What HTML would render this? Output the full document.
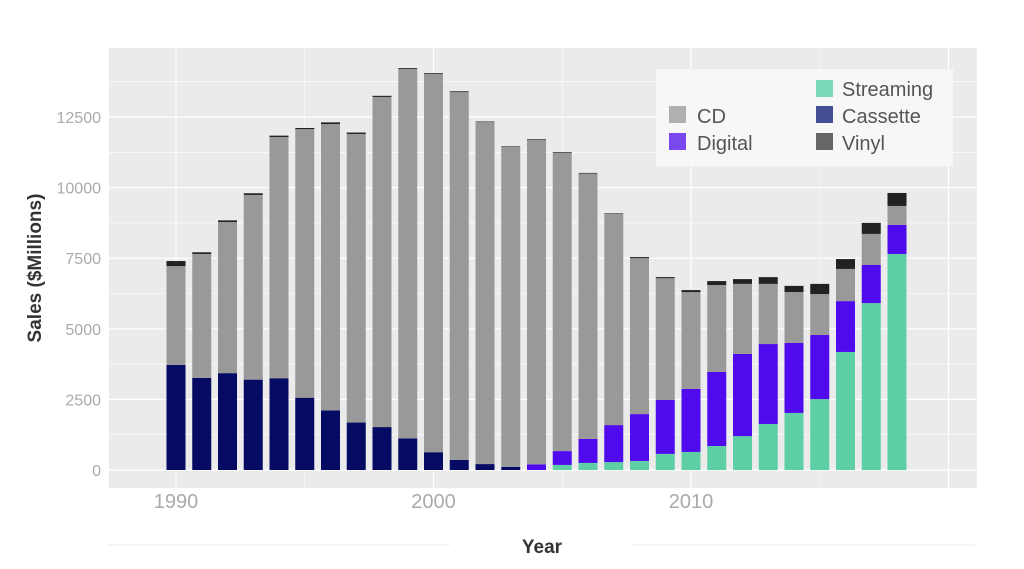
<!DOCTYPE html>
<html><head><meta charset="utf-8"><style>
body{margin:0;background:#fff;width:1024px;height:564px;overflow:hidden;font-family:"Liberation Sans",sans-serif;}
</style></head><body>
<svg id="chart" width="1024" height="564" xmlns="http://www.w3.org/2000/svg">
<rect x="109" y="48" width="868" height="440" fill="#ebebeb"/>
<g id="grid"></g>
<g id="bars"></g>
<g id="yticks"></g>
<g id="xticks"></g>
<text transform="translate(41,268) rotate(-90)" text-anchor="middle" font-size="19" font-weight="bold" fill="#333">Sales ($Millions)</text>
<text x="542" y="553" text-anchor="middle" font-size="19" font-weight="bold" fill="#333">Year</text>
<line x1="108" y1="545" x2="450" y2="545" stroke="#eee"/>
<line x1="632" y1="545" x2="975" y2="545" stroke="#eee"/>
<g>
<rect x="656" y="69" width="297" height="97" fill="#f7f7f7"/>
<rect x="816" y="80" width="17" height="17" fill="#7ad9b6"/>
<text x="842" y="96" font-size="20" fill="#555">Streaming</text>
<rect x="669" y="106" width="17" height="17" fill="#b0b0b0"/>
<text x="697" y="123" font-size="20" fill="#555">CD</text>
<rect x="816" y="106" width="17" height="17" fill="#454f96"/>
<text x="842" y="123" font-size="20" fill="#555">Cassette</text>
<rect x="669" y="133" width="17" height="17" fill="#7a48ef"/>
<text x="697" y="150" font-size="20" fill="#555">Digital</text>
<rect x="816" y="133" width="17" height="17" fill="#666"/>
<text x="842" y="150" font-size="20" fill="#555">Vinyl</text>
</g>
</svg>
<script>
const years=[1990,1991,1992,1993,1994,1995,1996,1997,1998,1999,2000,2001,2002,2003,2004,2005,2006,2007,2008,2009,2010,2011,2012,2013,2014,2015,2016,2017,2018];
const streaming=[0,0,0,0,0,0,0,0,0,0,0,0,0,0,0,180,250,280,320,570,640,850,1200,1630,2020,2510,4180,5910,7650];
const cassette=[3720,3260,3430,3200,3250,2560,2110,1680,1520,1120,630,360,210,110,0,0,0,0,0,0,0,0,0,0,0,0,0,0,0];
const digital=[0,0,0,0,0,0,0,0,0,0,0,0,0,0,200,490,850,1310,1660,1910,2230,2620,2910,2830,2480,2270,1800,1350,1030];
const cd=[3500,4390,5350,6540,8540,9510,10140,10220,11690,13080,13390,13020,12110,11330,11500,10570,9400,7480,5520,4310,3430,3080,2480,2130,1800,1450,1140,1100,670];
const vinyl=[180,60,60,60,50,40,60,50,40,30,30,30,20,20,20,20,20,20,40,40,70,140,170,240,220,360,350,390,460];
const yTicks=[0,2500,5000,7500,10000,12500];
const xTicks=[1990,2000,2010];
const series=[[streaming,'#5ecfa5','streaming'],[cassette,'#050a63','cassette'],[digital,'#4f0aed','digital'],[cd,'#999999','cd'],[vinyl,'#222222','vinyl']];
const NS='http://www.w3.org/2000/svg';
const X=y=>176+(y-1990)*25.75;
const Y=v=>470-v*353/12500;
function mk(t,a,p){const e=document.createElementNS(NS,t);for(const k in a)e.setAttribute(k,a[k]);p.appendChild(e);return e;}
const grid=document.getElementById('grid');
for(let v=-1250;v<=15000;v+=1250){const y=Y(v);if(y<48||y>488)continue;
const l=mk('line',{x1:109,x2:977,y1:y,y2:y,stroke:'#fff','stroke-width':v%2500===0?1.2:0.6},grid);

}
for(let yr=1985;yr<=2020;yr+=5){const x=X(yr);if(x<109||x>977)continue;
const l=mk('line',{x1:x,x2:x,y1:48,y2:488,stroke:'#fff','stroke-width':yr%10===0?1.2:0.6},grid);

}
const bars=document.getElementById('bars');
years.forEach((yr,i)=>{let base=0;series.forEach(([arr,col,nm])=>{const v=arr[i];if(v>0){
const r=mk('rect',{x:X(yr)-9.5,width:19,y:Y(base+v),height:Y(base)-Y(base+v),fill:col},bars);

}base+=v;});});
const yt=document.getElementById('yticks');
yTicks.forEach(v=>{const t=mk('text',{x:101,y:Y(v)+6,'text-anchor':'end','font-size':16,fill:'#aaa'},yt);t.textContent=v;

});
const xt=document.getElementById('xticks');
xTicks.forEach(v=>{const t=mk('text',{x:X(v),y:508,'text-anchor':'middle','font-size':20,fill:'#aaa'},xt);t.textContent=v;

});
</script>
</body></html>
